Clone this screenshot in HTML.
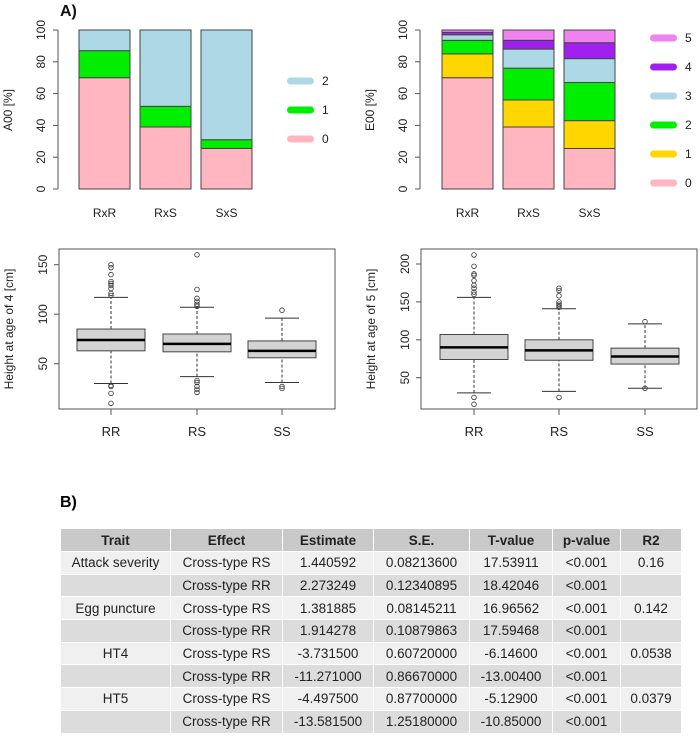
<!DOCTYPE html>
<html><head><meta charset="utf-8"><style>
body{margin:0;width:700px;height:736px;background:#fff;overflow:hidden;font-family:"Liberation Sans",sans-serif}
svg{position:absolute;left:0;top:0}
table{position:absolute;left:60px;top:528px;border-collapse:collapse;font-size:13.5px;color:#222}
td,th{height:22.7px;padding:0;border:1px solid #fff;text-align:center;box-sizing:border-box}
th{background:#c9c9c9;font-weight:bold;height:23px}
tr.a td{background:#f0f0f0}tr.b td{background:#dcdcdc}
</style></head><body>
<svg id="s" width="700" height="736" font-family="Liberation Sans, sans-serif"></svg>
<div style="position:absolute;left:60px;top:494px;font-weight:bold;font-size:16px">B)</div>
<table>
<colgroup><col style="width:110px"><col style="width:112px"><col style="width:91px"><col style="width:96px"><col style="width:83px"><col style="width:68px"><col style="width:61px"></colgroup>
<tr><th>Trait</th><th>Effect</th><th>Estimate</th><th>S.E.</th><th>T-value</th><th>p-value</th><th>R2</th></tr>
<tr class="a"><td>Attack severity</td><td>Cross-type RS</td><td>1.440592</td><td>0.08213600</td><td>17.53911</td><td>&lt;0.001</td><td>0.16</td></tr>
<tr class="b"><td></td><td>Cross-type RR</td><td>2.273249</td><td>0.12340895</td><td>18.42046</td><td>&lt;0.001</td><td></td></tr>
<tr class="a"><td>Egg puncture</td><td>Cross-type RS</td><td>1.381885</td><td>0.08145211</td><td>16.96562</td><td>&lt;0.001</td><td>0.142</td></tr>
<tr class="b"><td></td><td>Cross-type RR</td><td>1.914278</td><td>0.10879863</td><td>17.59468</td><td>&lt;0.001</td><td></td></tr>
<tr class="a"><td>HT4</td><td>Cross-type RS</td><td>-3.731500</td><td>0.60720000</td><td>-6.14600</td><td>&lt;0.001</td><td>0.0538</td></tr>
<tr class="b"><td></td><td>Cross-type RR</td><td>-11.271000</td><td>0.86670000</td><td>-13.00400</td><td>&lt;0.001</td><td></td></tr>
<tr class="a"><td>HT5</td><td>Cross-type RS</td><td>-4.497500</td><td>0.87700000</td><td>-5.12900</td><td>&lt;0.001</td><td>0.0379</td></tr>
<tr class="b"><td></td><td>Cross-type RR</td><td>-13.581500</td><td>1.25180000</td><td>-10.85000</td><td>&lt;0.001</td><td></td></tr>
</table>
<script>
const barCats=["RxR","RxS","SxS"];
// cumulative tops (%)
const a00Tops=[[70,87,100],[39,52,100],[25.5,31,100]];
const a00Colors=["#ffb6c1","#00ee00","#add8e6"];
const e00Tops=[[70,85,93.5,97,98.5,100],[39,56,76,88,93.5,100],[25.5,43,67,82,92,100]];
const e00Colors=["#ffb6c1","#ffd700","#00ee00","#add8e6","#a020f0","#ee82ee"];
const pctTicks=[0,20,40,60,80,100];
const boxCats=["RR","RS","SS"];
// [low whisker, q1, median, q3, high whisker]
const ht4Stats=[[30,63,74,85,117],[37,62,70,80,107],[31,56,63,73,96]];
const ht4Out=[[150,147,140,133,131,129,126,121,119,28,27,20,10],[160,125,116,113,110,108,33,31,27,24,21],[104,27,25]];
const ht4Ticks=[50,100,150];
const ht5Stats=[[30,74,90,107,156],[32,73,86,100,141],[36,68,78,89,121]];
const ht5Out=[[212,197,187,185,178,172,168,163,160,24,15],[168,165,158,150,147,145,143,24],[124,36]];
const ht5Ticks=[50,100,150,200];

const S=document.getElementById('s');const NS="http://www.w3.org/2000/svg";
function mk(t,a,txt){const e=document.createElementNS(NS,t);for(const k in a)e.setAttribute(k,a[k]);if(txt!=null)e.textContent=txt;S.appendChild(e);return e;}
function label(x,y,txt,rot,size,anchor){return mk('text',{x:x,y:y,'font-size':size||12,'text-anchor':anchor||'middle',fill:'#222',transform:rot?`rotate(-90 ${x} ${y})`:''},txt);}

const t=mk('text',{x:60,y:16,'font-size':16,'font-weight':'bold',fill:'#111'},'A)');


function stacked(axX,x0,step,bw,tops,cols,yLab,legX,legY0,legStep,nm){
  const y=v=>189-v*1.59;
  mk('line',{x1:axX,x2:axX,y1:y(0),y2:y(100),stroke:'#555'});
  pctTicks.forEach(v=>{mk('line',{x1:axX-5,x2:axX,y1:y(v),y2:y(v),stroke:'#555'});const l=label(axX-13,y(v),v,true,12);});
  const yl=label(axX-46,110,yLab,true,12);
  tops.forEach((tp,i)=>{let prev=0;const x=x0+i*step;
    tp.forEach((v,j)=>{const r=mk('rect',{x:x,y:y(v),width:bw,height:y(prev)-y(v),fill:cols[j],stroke:'#444','stroke-width':1});
      prev=v;});
    const l=label(x+bw/2,217,barCats[i],false,12);});
  cols.forEach((c,j)=>{const yy=legY0-j*legStep;
    const r=mk('rect',{x:legX,y:yy-3.5,width:27,height:7,rx:3.5,fill:c});
    const l=label(legX+35,yy+4,j,false,12,'start');});
}
stacked(58,79,61,51,a00Tops,a00Colors,'A00 [%]',287,139,29,'a00');
stacked(420,442,61,51,e00Tops,e00Colors,'E00 [%]',650,183,29,'e00');

function boxplot(bx0,bx1,y,centers,stats,outs,ticks,yLab,nm){
  const f=mk('rect',{x:bx0,y:249,width:bx1-bx0,height:160,fill:'none',stroke:'#555'});
  ticks.forEach(v=>{mk('line',{x1:bx0-5,x2:bx0,y1:y(v),y2:y(v),stroke:'#555'});const l=label(bx0-12,y(v),v,true,12);});
  const yl=label(bx0-46,329,yLab,true,12);
  stats.forEach((s,i)=>{const c=centers[i];
    mk('line',{x1:c,x2:c,y1:409,y2:415,stroke:'#555'});
    const l=label(c,436,boxCats[i],false,13);
    mk('line',{x1:c,x2:c,y1:y(s[0]),y2:y(s[1]),stroke:'#333','stroke-dasharray':'3,2'});
    mk('line',{x1:c,x2:c,y1:y(s[3]),y2:y(s[4]),stroke:'#333','stroke-dasharray':'3,2'});
    mk('line',{x1:c-17,x2:c+17,y1:y(s[0]),y2:y(s[0]),stroke:'#333'});
    mk('line',{x1:c-17,x2:c+17,y1:y(s[4]),y2:y(s[4]),stroke:'#333'});
    const b=mk('rect',{x:c-34,y:y(s[3]),width:68,height:y(s[1])-y(s[3]),fill:'#d3d3d3',stroke:'#444'});
    
    mk('line',{x1:c-34,x2:c+34,y1:y(s[2]),y2:y(s[2]),stroke:'#000','stroke-width':2.5});
    outs[i].forEach(v=>{const o=mk('circle',{cx:c,cy:y(v),r:2.3,fill:'none',stroke:'#333','stroke-width':0.8});});
  });
}
boxplot(59,335,v=>363.7-(v-50)*0.99,[111,197,282],ht4Stats,ht4Out,ht4Ticks,'Height at age of 4 [cm]','ht4');
boxplot(421,697,v=>377.7-(v-50)*0.758,[474,559,645],ht5Stats,ht5Out,ht5Ticks,'Height at age of 5 [cm]','ht5');
</script>
</body></html>
